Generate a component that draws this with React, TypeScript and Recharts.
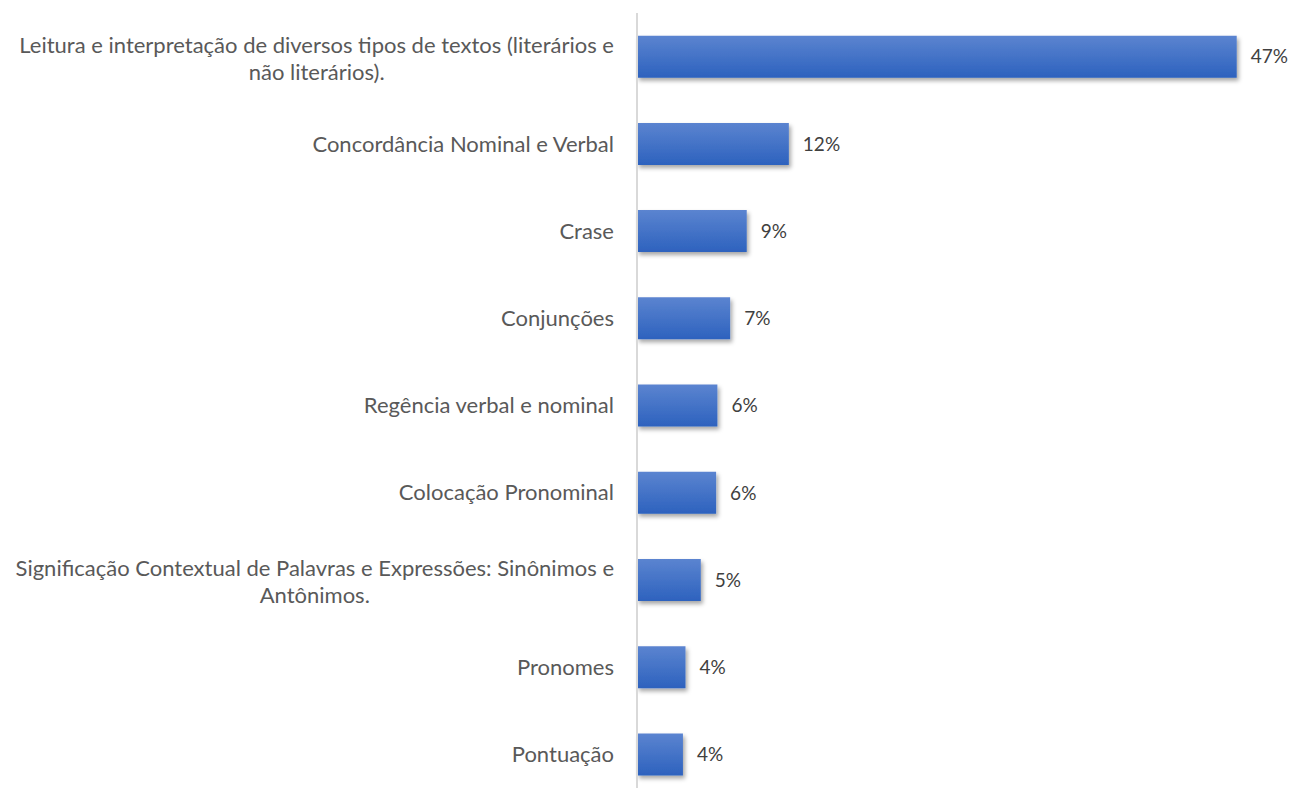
import { BarChart, Bar, XAxis, YAxis, LabelList } from 'recharts';

const categories = [
  "Leitura e interpretação de diversos tipos de textos (literários e\nnão literários).",
  "Concordância Nominal e Verbal",
  "Crase",
  "Conjunções",
  "Regência verbal e nominal",
  "Colocação Pronominal",
  "Significação Contextual de Palavras e Expressões: Sinônimos e\nAntônimos.",
  "Pronomes",
  "Pontuação",
]
const shares = [47, 11.9, 8.6, 7.3, 6.3, 6.2, 5.0, 3.8, 3.6]
const shareLabels = ["47%", "12%", "9%", "7%", "6%", "6%", "5%", "4%", "4%"]

const data = categories.map((name, i) => ({ name, value: shares[i], label: shareLabels[i] }))

const FONT = "Lato, 'Open Sans', sans-serif"
const FONT_SIZE = 22

let ctx: CanvasRenderingContext2D | null = null
const measure = (s: string) => {
  if (!ctx) ctx = document.createElement('canvas').getContext('2d')
  if (!ctx) return s.length * 10
  ctx.font = `${FONT_SIZE}px Lato`
  return ctx.measureText(s).width
}

const CategoryTick = ({ x, y, payload }: any) => {
  const lines: string[] = String(payload.value).split('\n')
  const lineH = 27
  const widest = Math.max(...lines.map(measure))
  const cx = x - widest / 2
  const top = y - ((lines.length - 1) * lineH) / 2 + (lines.length > 1 ? 2 : 0)
  return (
    <g>
      {lines.map((ln, i) => (
        <text key={i} x={lines.length > 1 ? cx : x} y={top + i * lineH} dy="0.35em"
          textAnchor={lines.length > 1 ? 'middle' : 'end'}
          fill="#595959" fontSize={FONT_SIZE} fontFamily={FONT}>{ln}</text>
      ))}
    </g>
  )
}

export default function App() {
  return (
    <div>
      {/* chart runs to the bottom edge like the original, so keep the page from scrolling */}
      <style>{`html, body { overflow: hidden; }`}</style>
      <BarChart width={1282} height={790} data={data} layout="vertical"
        margin={{ top: 5, right: 15, bottom: 0, left: 0 }} barCategoryGap="26%">
        <defs>
          <linearGradient id="barGrad" x1="0" y1="0" x2="0" y2="1">
            <stop offset="0%" stopColor="#5B84D0" />
            <stop offset="100%" stopColor="#2D62BE" />
          </linearGradient>
          <filter id="barShadow" x="-10%" y="-20%" width="130%" height="160%">
            <feDropShadow dx="2" dy="3" stdDeviation="2" floodColor="#000" floodOpacity="0.35" />
          </filter>
        </defs>
        <XAxis type="number" domain={[0, 50]} hide />
        <YAxis type="category" dataKey="name" width={629} tickSize={0} tickMargin={23}
          axisLine={{ stroke: '#D9D9D9', strokeWidth: 2 }} tickLine={false}
          tick={<CategoryTick />} interval={0} />
        <Bar dataKey="value" fill="url(#barGrad)" filter="url(#barShadow)" isAnimationActive={false}>
          <LabelList dataKey="label" position="right" offset={14} fill="#404040"
            fontSize={19} fontFamily={FONT} />
        </Bar>
      </BarChart>
    </div>
  )
}
